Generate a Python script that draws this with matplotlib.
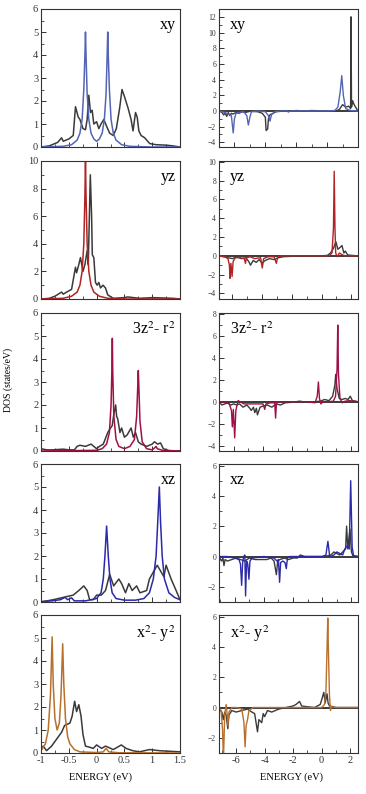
import matplotlib
matplotlib.use("Agg")
import matplotlib.pyplot as plt
from matplotlib.ticker import AutoMinorLocator, MultipleLocator

plt.rcParams['font.family'] = ['Liberation Serif', 'DejaVu Serif']
plt.rcParams['mathtext.fontset'] = 'stix'

GREY = '#3a3a3a'

# ---------------- data: left column (energy -1 .. 1.5 eV) ----------------
xy_L_orb_x = [-1.0, -0.6, -0.45, -0.35, -0.3, -0.26, -0.23, -0.21, -0.2, -0.19, -0.17, -0.14, -0.1, -0.05, 0.0,
              0.05, 0.1, 0.14, 0.17, 0.19, 0.2, 0.21, 0.23, 0.26, 0.3, 0.35, 0.45, 0.6, 1.0, 1.5]
xy_L_orb_y = [0, 0.03, 0.1, 0.3, 0.6, 1.2, 2.5, 4.0, 5.0, 4.0, 2.3, 1.2, 0.6, 0.35, 0.25,
              0.35, 0.6, 1.2, 2.3, 4.0, 5.0, 4.0, 2.5, 1.2, 0.6, 0.3, 0.1, 0.03, 0.0, 0.0]
xy_L_tot_x = [-1.0, -0.85, -0.7, -0.63, -0.6, -0.5, -0.42, -0.38, -0.33, -0.3, -0.245, -0.2, -0.17, -0.14, -0.11,
              -0.08, -0.05, 0.0, 0.04, 0.08, 0.13, 0.18, 0.235, 0.3, 0.355, 0.415, 0.457, 0.5, 0.565, 0.62,
              0.655, 0.7, 0.73, 0.76, 0.8, 0.865, 0.955, 1.07, 1.25, 1.37, 1.5]
xy_L_tot_y = [0.0, 0.05, 0.2, 0.4, 0.25, 0.35, 0.5, 1.75, 1.3, 1.2, 0.8, 0.75, 1.2, 2.25, 1.5,
              1.6, 1.0, 1.1, 0.8, 1.0, 1.2, 0.9, 0.6, 0.5, 0.8, 1.7, 2.5, 2.2, 1.7, 1.2,
              0.7, 1.5, 1.3, 0.7, 0.5, 0.4, 0.15, 0.1, 0.08, 0.05, 0.0]

yz_L_orb_x = [-1.0, -0.6, -0.45, -0.35, -0.3, -0.26, -0.23, -0.21, -0.2, -0.19, -0.17, -0.14, -0.1, -0.05,
              0.05, 0.2, 0.5, 1.5]
yz_L_orb_y = [0, 0.05, 0.2, 0.5, 1.0, 2.0, 4.0, 7.5, 10.0, 7.5, 4.0, 2.0, 1.0, 0.5, 0.2, 0.05, 0.0, 0.0]
yz_L_tot_x = [-1.0, -0.85, -0.75, -0.63, -0.6, -0.54, -0.45, -0.38, -0.36, -0.32, -0.29, -0.245, -0.21, -0.17,
              -0.15, -0.113, -0.09, -0.077, -0.05, -0.02, 0.01, 0.04, 0.07, 0.115, 0.16, 0.2, 0.3, 0.5,
              0.56, 0.77, 1.01, 1.37, 1.5]
yz_L_tot_y = [0.0, 0.05, 0.2, 0.5, 0.35, 0.5, 0.7, 2.3, 1.9, 2.5, 3.0, 2.0, 2.5, 3.5,
              2.5, 9.0, 6.0, 3.2, 3.0, 1.2, 1.0, 1.2, 0.8, 1.0, 0.8, 0.3, 0.05, 0.1,
              0.15, 0.05, 0.1, 0.05, 0.0]

z2_L_orb_x = [-1.0, 0.0, 0.1, 0.18, 0.23, 0.26, 0.275, 0.283, 0.29, 0.31, 0.35, 0.4, 0.5, 0.6, 0.68, 0.72,
              0.74, 0.75, 0.76, 0.78, 0.82, 0.9, 1.0, 1.05, 1.07, 1.09, 1.2, 1.5]
z2_L_orb_y = [0.0, 0.03, 0.1, 0.3, 0.8, 2.0, 3.5, 4.9, 3.5, 1.5, 0.5, 0.2, 0.1, 0.2, 0.5, 1.5,
              2.8, 3.5, 2.8, 1.3, 0.4, 0.1, 0.05, 0.15, 0.2, 0.1, 0.02, 0.0]
z2_L_tot_x = [-1.0, -0.9, -0.8, -0.6, -0.5, -0.4, -0.35, -0.3, -0.2, -0.1, 0.0, 0.05, 0.12, 0.2, 0.25, 0.28,
              0.31, 0.343, 0.36, 0.38, 0.42, 0.45, 0.5, 0.55, 0.62, 0.66, 0.7, 0.75, 0.8, 0.9, 1.0,
              1.04, 1.1, 1.15, 1.2, 1.3, 1.5]
z2_L_tot_y = [0.1, 0.05, 0.05, 0.08, 0.05, 0.05, 0.2, 0.25, 0.2, 0.3, 0.1, 0.2, 0.3, 0.8, 1.0, 1.1,
              1.6, 2.0, 1.5, 1.4, 0.8, 1.0, 0.6, 0.7, 1.0, 0.6, 0.8, 0.4, 0.3, 0.2, 0.3,
              0.4, 0.3, 0.35, 0.1, 0.02, 0.0]

xz_L_orb_x = [-1.0, -0.8, -0.65, -0.57, -0.52, -0.45, -0.4, -0.2, 0.0, 0.08, 0.12, 0.15, 0.18, 0.21, 0.24,
              0.28, 0.35, 0.5, 0.7, 0.85, 0.95, 1.02, 1.07, 1.1, 1.128, 1.15, 1.18, 1.22, 1.3, 1.4, 1.5]
xz_L_orb_y = [0.02, 0.05, 0.1, 0.2, 0.1, 0.18, 0.05, 0.05, 0.15, 0.4, 1.0, 2.0, 3.3, 2.0, 1.0,
              0.4, 0.15, 0.08, 0.08, 0.15, 0.4, 1.0, 2.0, 3.5, 5.0, 3.5, 2.0, 1.0, 0.4, 0.2, 0.1]
xz_L_tot_x = [-1.0, -0.78, -0.6, -0.42, -0.32, -0.23, -0.17, -0.125, -0.06, 0.0, 0.085, 0.16, 0.235, 0.307,
              0.4, 0.45, 0.52, 0.58, 0.64, 0.72, 0.78, 0.9, 0.95, 1.09, 1.21, 1.25, 1.34, 1.43, 1.5]
xz_L_tot_y = [0.0, 0.1, 0.2, 0.3, 0.5, 0.7, 0.5, 0.1, 0.1, 0.3, 0.3, 0.5, 1.2, 0.7,
              1.0, 0.8, 0.4, 0.8, 0.5, 0.7, 0.4, 0.5, 1.0, 1.6, 1.1, 1.6, 1.0, 0.5, 0.1]

x2_L_orb_x = [-1.0, -0.92, -0.87, -0.83, -0.8, -0.78, -0.75, -0.71, -0.67, -0.64, -0.61, -0.59, -0.56, -0.52,
              -0.48, -0.4, -0.3, 0.0, 0.12, 0.17, 0.22, 0.4, 1.5]
x2_L_orb_y = [0.1, 0.4, 1.0, 2.5, 5.05, 3.0, 1.5, 1.0, 1.3, 2.5, 4.75, 3.0, 1.5, 0.7,
              0.4, 0.15, 0.05, 0.02, 0.05, 0.2, 0.05, 0.01, 0.0]
x2_L_tot_x = [-1.0, -0.96, -0.9, -0.81, -0.72, -0.63, -0.575, -0.48, -0.44, -0.395, -0.36, -0.32, -0.28,
              -0.245, -0.2, -0.125, -0.06, 0.0, 0.09, 0.16, 0.3, 0.445, 0.53, 0.65, 0.77, 0.955, 1.13, 1.5]
x2_L_tot_y = [0.2, 0.3, 0.1, 0.3, 0.6, 0.9, 1.2, 1.3, 1.6, 2.25, 1.8, 2.1, 1.6,
              0.8, 0.3, 0.25, 0.2, 0.35, 0.2, 0.3, 0.15, 0.35, 0.2, 0.1, 0.05, 0.15, 0.1, 0.05]

# ---------------- data: right column (energy -7 .. 2.5 eV, spin up/down) ----------------
xy_R_orb_x = [-7.0, -6.6, -6.4, -6.2, -6.08, -6.0, -5.9, -5.7, -5.4, -5.2, -5.1, -5.0, -4.9, -4.5, -4.0, -3.8,
              -3.7, -3.6, -3.4, -3.0, -2.6, -2.5, -2.4, -1.0, 0.0, 0.5, 0.7, 0.85, 0.95, 1.05, 1.2, 1.5, 2.0]
xy_R_orb_y = [0, -0.2, -0.4, -0.6, -2.8, -1.0, -0.3, -0.2, -0.1, -0.6, -1.8, -0.8, -0.1, 0, -0.1, -0.6,
              -1.3, -0.5, -0.1, 0, 0, -0.15, 0, 0, 0, 0.05, 0.5, 2.5, 4.5, 2.0, 0.3, 0.05, 0]
xy_R_tot_x = [-7.0, -6.8, -6.7, -6.6, -6.5, -6.4, -6.3, -6.2, -6.1, -5.9, -5.7, -5.5, -5.3, -5.0, -4.5, -4.2,
              -4.0, -3.95, -3.85, -3.8, -3.7, -3.5, -3.3, -3.0, -2.5, -2.0, -1.5, -1.0, 0.0, 0.6, 0.8,
              1.0, 1.2, 1.4, 1.52, 1.55, 1.58, 1.65, 1.75, 1.9, 2.0]
xy_R_tot_y = [0, -0.2, -0.5, -0.3, -0.7, -0.2, -0.6, -0.3, -0.4, -0.2, -0.3, -0.1, -0.2, -0.05, -0.1, -0.3,
              -0.8, -2.5, -2.3, -1.0, -0.5, -0.3, -0.1, -0.05, -0.05, 0.05, 0, 0.05, 0, 0, 0.2,
              0.8, 0.5, 0.6, 0.3, 12.0, 0.5, 1.3, 0.8, 0.3, 0]

yz_R_orb_x = [-6.9, -6.5, -6.3, -6.2, -6.16, -6.1, -6.02, -5.95, -5.8, -5.5, -5.2, -5.12, -5.05, -4.8, -4.5,
              -4.1, -3.99, -3.9, -3.6, -3.2, -3.04, -2.95, -2.7, -1.0, 0.5, 0.7, 0.8, 0.85, 0.9, 0.95,
              1.05, 1.2, 1.4, 1.6, 2.45]
yz_R_orb_y = [0, -0.1, -0.3, -1.0, -2.4, -0.8, -2.2, -0.6, -0.2, -0.2, -0.3, -0.8, -0.2, -0.1, -0.3,
              -0.2, -1.3, -0.3, -0.1, -0.1, -0.8, -0.1, 0, 0, 0, 0.3, 3.0, 9.0, 3.0, 0.3,
              -0.1, 0.3, 0.1, 0, 0]
yz_R_tot_x = [-6.9, -6.6, -6.3, -6.0, -5.7, -5.4, -5.1, -4.9, -4.78, -4.6, -4.4, -4.2, -4.0, -3.8, -3.5,
              -3.2, -2.9, -2.6, -2.0, -1.0, 0.0, 0.4, 0.6, 0.8, 0.96, 1.1, 1.25, 1.37, 1.5, 1.6, 1.75,
              2.0, 2.45]
yz_R_tot_y = [0, -0.1, -0.2, -0.3, -0.1, -0.3, -0.2, -0.6, -1.0, -0.5, -0.7, -0.4, -0.8, -0.5, -0.3,
              -0.4, -0.2, -0.1, -0.05, 0, 0, 0.05, 0.3, 0.8, 1.5, 0.7, 0.9, 1.1, 0.3, 0.5, 0.1,
              0.05, 0]

z2_R_orb_x = [-7.0, -6.5, -6.3, -6.15, -6.09, -6.02, -5.93, -5.85, -5.7, -5.3, -4.5, -4.0, -3.88, -3.8, -3.5,
              -3.2, -3.14, -3.08, -2.9, -1.0, -0.45, -0.3, -0.22, -0.15, -0.05, 0.1, 0.5, 0.8, 0.95,
              1.05, 1.1, 1.15, 1.25, 1.4, 1.6, 1.9, 2.48]
z2_R_orb_y = [0, -0.1, -0.2, -0.8, -2.3, -0.7, -3.3, -0.8, 0.1, -0.2, -0.2, -0.2, -0.7, -0.2, -0.1,
              -0.1, -1.5, -0.1, 0, 0, -0.1, 0.5, 1.8, 0.3, -0.2, 0, 0, 0.05, 0.5,
              3.0, 7.0, 2.5, 0.3, -0.1, 0.05, 0.1, 0]
z2_R_tot_x = [-7.0, -6.8, -6.6, -6.4, -6.2, -6.0, -5.8, -5.6, -5.36, -5.1, -4.9, -4.8, -4.65, -4.56, -4.45,
              -4.38, -4.2, -4.0, -3.7, -3.4, -3.1, -2.8, -2.5, -2.0, -1.5, -1.0, -0.5, -0.1, 0.2, 0.5,
              0.75, 0.9, 0.96, 1.05, 1.2, 1.4, 1.6, 1.8, 1.95, 2.1, 2.48]
z2_R_tot_y = [0, -0.3, -0.2, -0.1, -0.3, -0.2, -0.3, -0.2, -0.5, -0.3, -0.6, -0.8, -0.5, -1.0, -0.6,
              -1.2, -0.5, -0.4, -0.3, -0.5, -0.2, -0.3, -0.1, -0.05, 0.05, -0.05, 0, 0.05, 0.2, 0.1,
              0.5, 1.5, 2.5, 1.2, 0.3, 0.2, 0.3, 0.2, 0.5, 0.1, 0]

xz_R_orb_x = [-7.07, -6.5, -6.0, -5.7, -5.6, -5.52, -5.45, -5.38, -5.3, -5.25, -5.18, -5.1, -5.02, -4.95,
              -4.8, -4.0, -3.3, -3.1, -3.0, -2.92, -2.85, -2.7, -2.55, -2.46, -2.38, -2.2, -1.0, 0.0,
              0.25, 0.39, 0.5, 0.6, 0.8, 1.0, 1.2, 1.4, 1.55, 1.7, 1.85, 1.95, 2.05, 2.15, 2.45]
xz_R_orb_y = [0, 0, -0.1, -0.2, -0.5, -1.9, -0.4, 0, 0.1, -2.6, -0.3, -0.5, -1.5, -0.3,
              -0.1, 0, -0.1, -0.3, -0.2, -1.7, -0.4, -0.3, -0.4, -0.8, -0.1, 0, 0, 0,
              0.1, 1.0, 0.1, 0.0, 0.1, 0.3, 0.2, 0.1, 0.5, 0.7, 0.5, 5.0, 0.6, 0.05, 0]
xz_R_tot_x = [-7.07, -6.9, -6.8, -6.73, -6.65, -6.5, -6.2, -5.9, -5.6, -5.3, -5.0, -4.6, -4.2, -3.8, -3.5,
              -3.3, -3.14, -3.05, -2.9, -2.6, -2.3, -2.0, -1.7, -1.5, -1.2, -0.8, -0.3, 0.0, 0.4, 0.6,
              0.8, 1.0, 1.2, 1.4, 1.6, 1.67, 1.75, 1.9, 2.0, 2.1, 2.45]
xz_R_tot_y = [0, -0.3, -0.1, -0.6, -0.2, -0.3, -0.2, -0.1, -0.2, -0.3, -0.1, -0.2, -0.2, -0.2, -0.1,
              -0.3, -1.2, -0.3, -0.2, -0.1, -0.2, -0.1, -0.1, 0.1, 0.0, 0, 0, 0, 0.05, 0.1,
              0.3, 0.2, 0.1, 0.3, 0.5, 2.0, 0.5, 1.8, 0.3, 0.05, 0]

x2_R_orb_x = [-7.2, -7.05, -6.95, -6.89, -6.8, -6.7, -6.62, -6.58, -6.5, -6.3, -6.0, -5.6, -5.45, -5.37,
              -5.3, -5.2, -5.1, -4.8, -4.0, -2.0, 0.0, 0.2, 0.3, 0.38, 0.43, 0.48, 0.55, 0.62, 0.7,
              1.0, 2.55]
x2_R_orb_y = [0, -0.2, -1.5, -3.5, -0.5, 0.2, -0.5, -1.2, -0.3, 0, 0, -0.1, -1.0, -2.6,
              -1.2, -0.8, -0.2, 0, 0, 0, 0, 0.2, 1.0, 4.0, 5.9, 3.5, 0.8, -0.2, 0.05,
              0, 0]
x2_R_tot_x = [-7.2, -7.0, -6.9, -6.8, -6.7, -6.58, -6.5, -6.3, -6.0, -5.6, -5.2, -4.9, -4.7, -4.6, -4.5,
              -4.4, -4.3, -4.2, -4.1, -4.0, -3.8, -3.5, -3.0, -2.5, -2.0, -1.8, -1.55, -1.4, -1.0,
              -0.5, -0.1, 0.0, 0.15, 0.25, 0.38, 0.45, 0.55, 0.8, 1.0, 2.0, 2.55]
x2_R_tot_y = [-0.1, -0.3, -0.8, -0.3, -0.5, -1.4, -0.5, -0.2, -0.3, -0.2, -0.1, -0.3, -0.4, -1.0, -1.6,
              -0.8, -0.9, -1.0, -0.4, -0.6, -0.2, -0.3, -0.1, 0, 0.1, 0.2, 0.4, 0.1, 0.05,
              0, 0.2, 0.5, 1.0, 0.3, 0.9, 0.3, 0.1, 0.05, 0, 0, 0]

labels = ['xy', 'yz', r'3z$^2$- r$^2$', 'xz', r'x$^2$- y$^2$']
colors = ['#5565b5', '#b02424', '#a01048', '#2a2aaa', '#b8702c']

left_data = [(xy_L_tot_x, xy_L_tot_y, xy_L_orb_x, xy_L_orb_y),
             (yz_L_tot_x, yz_L_tot_y, yz_L_orb_x, yz_L_orb_y),
             (z2_L_tot_x, z2_L_tot_y, z2_L_orb_x, z2_L_orb_y),
             (xz_L_tot_x, xz_L_tot_y, xz_L_orb_x, xz_L_orb_y),
             (x2_L_tot_x, x2_L_tot_y, x2_L_orb_x, x2_L_orb_y)]
right_data = [(xy_R_tot_x, xy_R_tot_y, xy_R_orb_x, xy_R_orb_y),
              (yz_R_tot_x, yz_R_tot_y, yz_R_orb_x, yz_R_orb_y),
              (z2_R_tot_x, z2_R_tot_y, z2_R_orb_x, z2_R_orb_y),
              (xz_R_tot_x, xz_R_tot_y, xz_R_orb_x, xz_R_orb_y),
              (x2_R_tot_x, x2_R_tot_y, x2_R_orb_x, x2_R_orb_y)]

left_ylims = [(0, 6), (0, 10), (0, 6), (0, 6), (0, 6)]
left_ymajor = [1, 2, 1, 1, 1]
right_xlims = [(-7.0, 2.0), (-6.9, 2.45), (-7.0, 2.48), (-7.07, 2.45), (-7.2, 2.55)]
right_ylims = [(-4.6, 13.0), (-4.6, 10.1), (-4.5, 8.1), (-3.0, 6.1), (-3.0, 6.1)]

W, H = 366, 794
fig = plt.figure(figsize=(W / 100, H / 100), dpi=100)
tops = [9, 161, 313, 464, 615]
ph = 138


def style(ax, ysize):
    for s in ax.spines.values():
        s.set_linewidth(0.8)
        s.set_color('#333333')
    ax.tick_params(which='both', direction='in', top=False, right=False, colors='#333333')
    ax.tick_params(which='major', length=3.5, width=0.7, pad=2)
    ax.tick_params(which='minor', length=2, width=0.6)
    ax.tick_params(axis='y', labelsize=ysize)
    ax.tick_params(axis='x', labelsize=7.5)
    ax.xaxis.set_minor_locator(AutoMinorLocator(2))
    ax.yaxis.set_minor_locator(AutoMinorLocator(2))


for i in range(5):
    b = 1 - (tops[i] + ph) / H
    # left
    axl = fig.add_axes([41 / W, b, 139 / W, ph / H])
    tx, ty, ox, oy = left_data[i]
    axl.plot(tx, ty, color=GREY, lw=1.1)
    axl.plot(ox, oy, color=colors[i], lw=1.1)
    axl.set_xlim(-1, 1.5)
    axl.set_ylim(*left_ylims[i])
    axl.xaxis.set_major_locator(MultipleLocator(0.5))
    axl.yaxis.set_major_locator(MultipleLocator(left_ymajor[i]))
    style(axl, 7.5)
    axl.set_xticklabels(['-1', '-0.5', '0', '0.5', '1', '1.5'] if i == 4 else [])
    if i == 4:
        axl.set_xticks([-1, -0.5, 0, 0.5, 1, 1.5])
        axl.set_xticklabels(['-1', '-0.5', '0', '0.5', '1', '1.5'])
    else:
        axl.tick_params(axis='x', labelbottom=False)
    axl.text(0.97, 0.94, labels[i], transform=axl.transAxes, ha='right', va='top', fontsize=11.5)

    # right
    axr = fig.add_axes([219 / W, b, 139 / W, ph / H])
    tx, ty, ox, oy = right_data[i]
    axr.axhline(0, color=GREY, lw=1.4)
    axr.plot(tx, ty, color=GREY, lw=1.0)
    axr.plot(ox, oy, color=colors[i], lw=1.0)
    axr.set_xlim(*right_xlims[i])
    axr.set_ylim(*right_ylims[i])
    axr.xaxis.set_major_locator(MultipleLocator(2))
    axr.yaxis.set_major_locator(MultipleLocator(2))
    style(axr, 5.5)
    if i == 4:
        axr.set_xticks([-6, -4, -2, 0, 2])
        axr.set_xticklabels(['-6', '-4', '-2', '0', '2'])
    else:
        axr.tick_params(axis='x', labelbottom=False)
    axr.text(0.08, 0.94, labels[i], transform=axr.transAxes, ha='left', va='top', fontsize=11.5)

fig.text(8 / W, 1 - 380 / H, 'DOS (states/eV)', rotation=90, ha='center', va='center', fontsize=7)
fig.text(101 / W, 1 - 777 / H, 'ENERGY (eV)', ha='center', va='center', fontsize=7.5)
fig.text(292 / W, 1 - 777 / H, 'ENERGY (eV)', ha='center', va='center', fontsize=7.5)

fig.savefig('out.png', dpi=100)
